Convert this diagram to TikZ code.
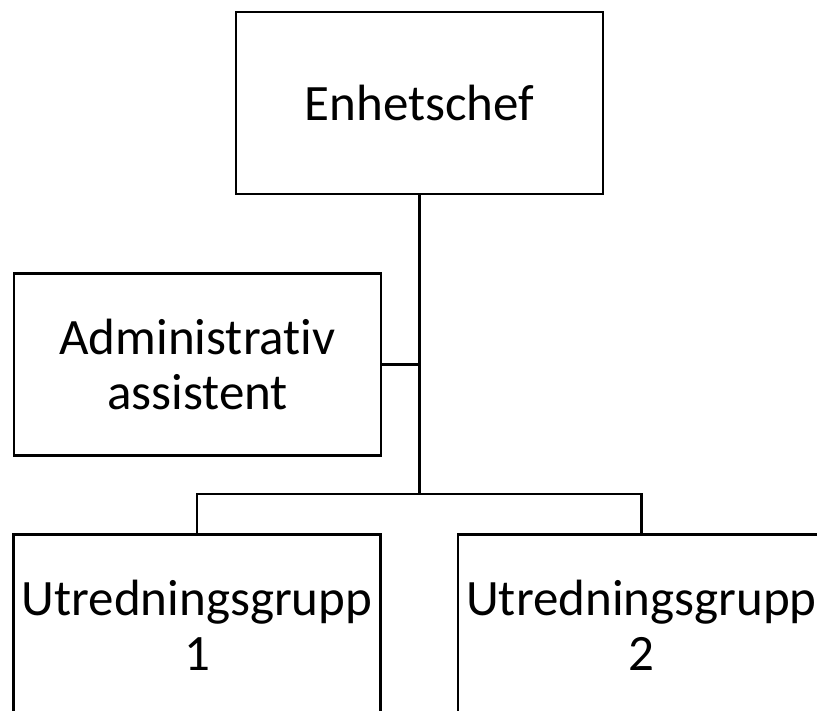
\documentclass[tikz,border=0pt]{standalone}
\usepackage{fontspec}
\setmainfont{Carlito}[Ligatures=NoCommon]
\begin{document}
\begin{tikzpicture}[x=1pt,y=-1pt,
  orgbox/.style={draw=black, line width=2.6pt, fill=white, rectangle,
    minimum width=367pt, minimum height=182pt, inner sep=0pt,
    align=center, font=\fontsize{51}{55}\selectfont},
  conn/.style={draw=black, line width=2.4pt}]
\useasboundingbox (0,0) rectangle (817,711);
\node[orgbox] (E) at (419.5,103) {Enhetschef};
\node[orgbox] (A) at (197.5,364.5) {Administrativ\\assistent};
\node[orgbox] (U1) at (197,625.5) {Utredningsgrupp\\1};
\node[orgbox] (U2) at (641.5,625.5) {Utredningsgrupp\\2};
\coordinate (bus) at (419.5,494);
\draw[conn] (E.south) -- (bus);
\draw[conn] (A.east) -- (A.east -| E.south);
\draw[conn] (U1.north) |- (bus);
\draw[conn] (U2.north) |- (bus);
\end{tikzpicture}
\end{document}
